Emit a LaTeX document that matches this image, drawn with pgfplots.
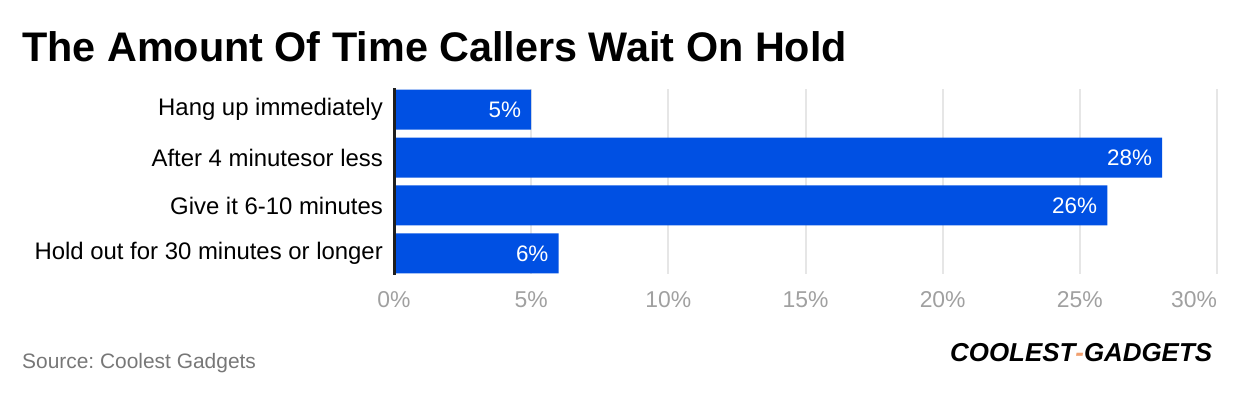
\documentclass[border=0pt]{standalone}
\usepackage{pgfplots}
\pgfplotsset{compat=1.18}
\usepackage{fontspec}
\setmainfont{Liberation Sans}
\frenchspacing
\definecolor{barblue}{HTML}{0050E3}
\definecolor{gridgray}{HTML}{E6E6E6}
\definecolor{tickgray}{HTML}{A0A0A0}
\definecolor{srcgray}{HTML}{777777}
\definecolor{logoorange}{HTML}{F0A070}
\begin{document}
\begin{tikzpicture}[x=1bp,y=1bp]
\path[use as bounding box] (0,0) rectangle (1240,396);
\node[anchor=base west,inner sep=0pt] at (22,335) {\fontsize{41.5}{41.5}\selectfont\bfseries The Amount Of Time Callers Wait On Hold};
\begin{axis}[
  at={(394bp,122bp)}, anchor=south west,
  scale only axis, width=823bp, height=185bp,
  xbar, bar width=40bp,
  xmin=0, xmax=30,
  ymin=-0.43, ymax=3.43, y dir=reverse,
  ytick={0,1,2,3},
  yticklabels={Hang up immediately, After 4 minutesor less, Give it 6-10 minutes, Hold out for 30 minutes or longer},
  xtick={0,5,10,15,20,25,30},
  xticklabels={0\%,5\%,10\%,15\%,20\%,25\%,\makebox[0pt][r]{30\%}},
  /pgf/number format/assume math mode=true,
  xmajorgrids, major grid style={gridgray, line width=2bp},
  axis line style={draw=none},
  major tick length=0pt,
  tick style={draw=none},
  yticklabel style={font=\fontsize{24}{24}\selectfont, text=black, inner sep=0pt, anchor=east, xshift=-11bp},
  xticklabel style={font=\fontsize{23}{23}\selectfont, text=tickgray, inner sep=0pt, anchor=north, yshift=-17bp},
  nodes near coords={\pgfmathprintnumber{\pgfplotspointmeta}\%},
  point meta=x,
  nodes near coords style={font=\fontsize{22.5}{22.5}\selectfont, text=white, anchor=east, inner sep=0pt, xshift=-10bp},
  clip=false,
]
\addplot[fill=barblue, draw=none] coordinates {(5,0) (28,1) (26,2) (6,3)};
\draw[line width=3bp, color=black!88] (axis cs:0,-0.45) -- (axis cs:0,3.45);
\end{axis}
\node[anchor=base west,inner sep=0pt,text=srcgray] at (22,28) {\fontsize{21}{21}\selectfont Source: Coolest Gadgets};
\node[anchor=base west,inner sep=0pt] at (950,35) {\fontsize{26}{26}\selectfont\bfseries\itshape COOLEST\textcolor{logoorange}{-}GADGETS};
\end{tikzpicture}
\end{document}
